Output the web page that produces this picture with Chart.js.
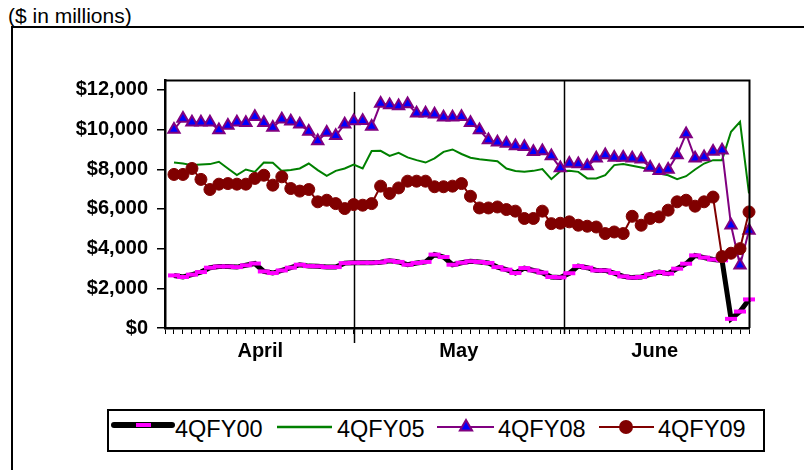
<!DOCTYPE html>
<html>
<head>
<meta charset="utf-8">
<script src="https://cdn.jsdelivr.net/npm/chart.js@4.4.1/dist/chart.umd.min.js"></script>
<style>
  html, body { margin: 0; padding: 0; background: #fff; }
  body { width: 804px; height: 470px; overflow: hidden; position: relative; font-family: "Liberation Sans", Arial, sans-serif; }
  #frame { position: absolute; left: 11px; top: 26px; width: 900px; height: 600px; border: 2px solid #000; box-sizing: border-box; }
  #title { position: absolute; left: 8px; top: 5px; font-size: 21px; line-height: 1; color: #000; white-space: nowrap; }
  #chart { position: absolute; left: 0; top: 0; }
  #legendBox { position: absolute; left: 107px; top: 409px; width: 658px; height: 43px; border: 2px solid #000; box-sizing: border-box; background: #fff; }
  .lg { position: absolute; top: 418px; font-size: 23.5px; line-height: 1; color: #000; white-space: nowrap; }
  #legendSvg { position: absolute; left: 0; top: 0; pointer-events: none; }
</style>
</head>
<body>
<div id="frame"></div>
<div id="title">($ in millions)</div>
<canvas id="chart" width="804" height="470"></canvas>
<div id="legendBox"></div>
<svg id="legendSvg" width="804" height="470">
  <line x1="114" y1="425" x2="172" y2="425" stroke="#000" stroke-width="6" stroke-linecap="round"/>
  <rect x="136" y="423" width="15" height="4" fill="#FF00FF"/>
  <line x1="277" y1="427" x2="332" y2="427" stroke="#008000" stroke-width="2.5"/>
  <line x1="437" y1="427" x2="494" y2="427" stroke="#800080" stroke-width="2"/>
  <polygon points="466,420 472.1,430.5 459.9,430.5" fill="#0000FF" stroke="#800080" stroke-width="2"/>
  <line x1="599" y1="427" x2="654" y2="427" stroke="#800000" stroke-width="2"/>
  <circle cx="626" cy="427" r="7" fill="#800000"/>
</svg>
<span class="lg" style="left:175px">4QFY00</span>
<span class="lg" style="left:337px">4QFY05</span>
<span class="lg" style="left:498px">4QFY08</span>
<span class="lg" style="left:658px">4QFY09</span>

<script>
// ---- Data (index 0 is an empty slot before the first business day of April) ----
const dayLabels = Array.from({ length: 66 }, (_, i) => String(i));
const monthNames = ['April', 'May', 'June'];
const monthLabelPos = [10.6, 32.7, 54.5];
const yTickValues = [0, 2000, 4000, 6000, 8000, 10000, 12000];

const fy00 = [null,
  2650, 2570, 2690, 2820, 3040, 3100, 3100, 3070, 3160, 3250,
  2850, 2770, 2900, 3040, 3190, 3120, 3110, 3070, 3070, 3270,
  3290, 3290, 3290, 3310, 3390, 3330, 3190, 3280, 3330, 3700,
  3580, 3190, 3290, 3360, 3330, 3280, 3070, 2940, 2770, 3020,
  2900, 2790, 2570, 2550, 2760, 3120, 3040, 2900, 2900, 2770,
  2600, 2540, 2570, 2700, 2820, 2740, 2990, 3240, 3660, 3550,
  3450, 3410, 460, 830, 1440];

const fy05 = [null,
  8340, 8290, 8210, 8240, 8260, 8380, 8040, 7710, 7990, 7870,
  8340, 8330, 7920, 7960, 8040, 8290, 7960, 7670, 7920, 8040,
  8240, 8040, 8920, 8930, 8670, 8830, 8600, 8460, 8340, 8550,
  8880, 9000, 8770, 8580, 8510, 8460, 8410, 8040, 7910, 7870,
  7920, 8010, 7500, 7900, 7920, 7870, 7540, 7540, 7700, 8210,
  8260, 8180, 8090, 7990, 7790, 7700, 7500, 7650, 7990, 8290,
  8460, 8460, 9890, 10390, 6780];

const fy08 = [null,
  10000, 10560, 10370, 10370, 10370, 9980, 10210, 10370, 10350, 10650,
  10350, 10100, 10520, 10420, 10270, 9900, 9420, 9860, 9690, 10270,
  10430, 10450, 10150, 11320, 11240, 11190, 11290, 10820, 10820, 10770,
  10620, 10620, 10650, 10350, 9980, 9470, 9360, 9300, 9170, 9140,
  8880, 8920, 8670, 8070, 8290, 8260, 8160, 8550, 8720, 8600,
  8600, 8550, 8510, 8090, 7920, 7990, 8720, 9780, 8550, 8620,
  8900, 8960, 5180, 3160, 4920];

const fy09 = [null,
  7740, 7740, 8040, 7490, 6980, 7250, 7280, 7250, 7250, 7540,
  7700, 7200, 7620, 7030, 6900, 6980, 6360, 6440, 6270, 6020,
  6220, 6190, 6270, 7150, 6780, 7060, 7400, 7400, 7400, 7120,
  7120, 7150, 7280, 6640, 6050, 6050, 6100, 5970, 5890, 5520,
  5520, 5890, 5260, 5280, 5350, 5180, 5130, 5090, 4760, 4840,
  4760, 5630, 5180, 5520, 5600, 5940, 6360, 6440, 6140, 6360,
  6600, 3600, 3770, 4000, 5850];

// month boundary positions on the category scale
const monthBreaks = [{ at: 21, top: 11900, below: 15 }, { at: 44.4, top: null, below: 6 }];

const framePlugin = {
  id: 'framePlugin',
  beforeDatasetsDraw(chart) {
    const { ctx, chartArea, scales } = chart;
    ctx.save();
    ctx.strokeStyle = '#000';
    ctx.lineWidth = 1.5;
    monthBreaks.forEach(b => {
      const x = Math.round(scales.x.getPixelForValue(b.at)) + 0.5;
      const yTop = b.top == null ? chartArea.top : scales.y.getPixelForValue(b.top);
      ctx.beginPath();
      ctx.moveTo(x, yTop);
      ctx.lineTo(x, chartArea.bottom + b.below);
      ctx.stroke();
    });
    ctx.restore();
  },
  afterDraw(chart) {
    const { ctx, chartArea } = chart;
    ctx.save();
    ctx.strokeStyle = '#000';
    ctx.lineWidth = 2;
    ctx.beginPath();
    ctx.moveTo(chartArea.left, chartArea.top + 0.5);
    ctx.lineTo(chartArea.right + 0.5, chartArea.top + 0.5);
    ctx.lineTo(chartArea.right + 0.5, chartArea.bottom);
    ctx.stroke();
    ctx.restore();
  }
};

const boldFont = { family: '"Liberation Sans", Arial, sans-serif', size: 20, weight: 'bold' };

new Chart(document.getElementById('chart'), {
  type: 'line',
  data: {
    labels: dayLabels,
    datasets: [
      { label: '4QFY00', data: fy00, order: 4, clip: false,
        borderColor: '#000000', borderWidth: 5, tension: 0,
        pointStyle: 'line', pointRadius: 6, pointBorderColor: '#FF00FF', pointBorderWidth: 4,
        pointBackgroundColor: '#FF00FF' },
      { label: '4QFY05', data: fy05, order: 3, clip: false,
        borderColor: '#008000', borderWidth: 2, tension: 0, pointRadius: 0 },
      { label: '4QFY08', data: fy08, order: 2, clip: false,
        borderColor: '#800080', borderWidth: 2, tension: 0,
        pointStyle: 'triangle', pointRadius: 6.5, pointBackgroundColor: '#0000FF',
        pointBorderColor: '#800080', pointBorderWidth: 2 },
      { label: '4QFY09', data: fy09, order: 1, clip: false,
        borderColor: '#800000', borderWidth: 2, tension: 0,
        pointStyle: 'circle', pointRadius: 6, pointBackgroundColor: '#800000',
        pointBorderColor: '#800000', pointBorderWidth: 1 }
    ]
  },
  options: {
    responsive: false,
    animation: false,
    devicePixelRatio: 1,
    layout: { padding: { left: 0, right: 55, top: 80, bottom: 0 } },
    plugins: { legend: { display: false }, tooltip: { enabled: false }, title: { display: false } },
    scales: {
      x: {
        type: 'category', position: 'bottom', weight: 0, offset: false,
        grid: { display: true, drawOnChartArea: false, drawTicks: true, tickLength: 6, color: '#000', lineWidth: 1 },
        border: { display: true, color: '#000', width: 2.5 },
        ticks: { display: false, autoSkip: false },
        afterFit: s => { s.height = 6; }
      },
      months: {
        type: 'linear', position: 'bottom', weight: 1, min: 0, max: 65,
        grid: { display: false, drawTicks: false },
        border: { display: false },
        afterBuildTicks: s => { s.ticks = monthLabelPos.map(v => ({ value: v })); },
        ticks: {
          autoSkip: false, maxRotation: 0, padding: 5, color: '#000', font: boldFont,
          callback: v => monthNames[monthLabelPos.indexOf(v)] || ''
        },
        afterFit: s => { s.height = 136; }
      },
      y: {
        type: 'linear', position: 'left', min: 0, max: 12500,
        afterBuildTicks: s => { s.ticks = yTickValues.map(v => ({ value: v })); },
        grid: { drawOnChartArea: false, drawTicks: true, tickLength: 8, color: '#000', lineWidth: 1.5 },
        border: { display: true, color: '#000', width: 2.5 },
        ticks: {
          padding: 9, color: '#000', font: boldFont,
          callback: v => '$' + Number(v).toLocaleString('en-US')
        },
        afterFit: s => { s.width = 165; }
      }
    }
  },
  plugins: [framePlugin]
});
</script>
</body>
</html>
